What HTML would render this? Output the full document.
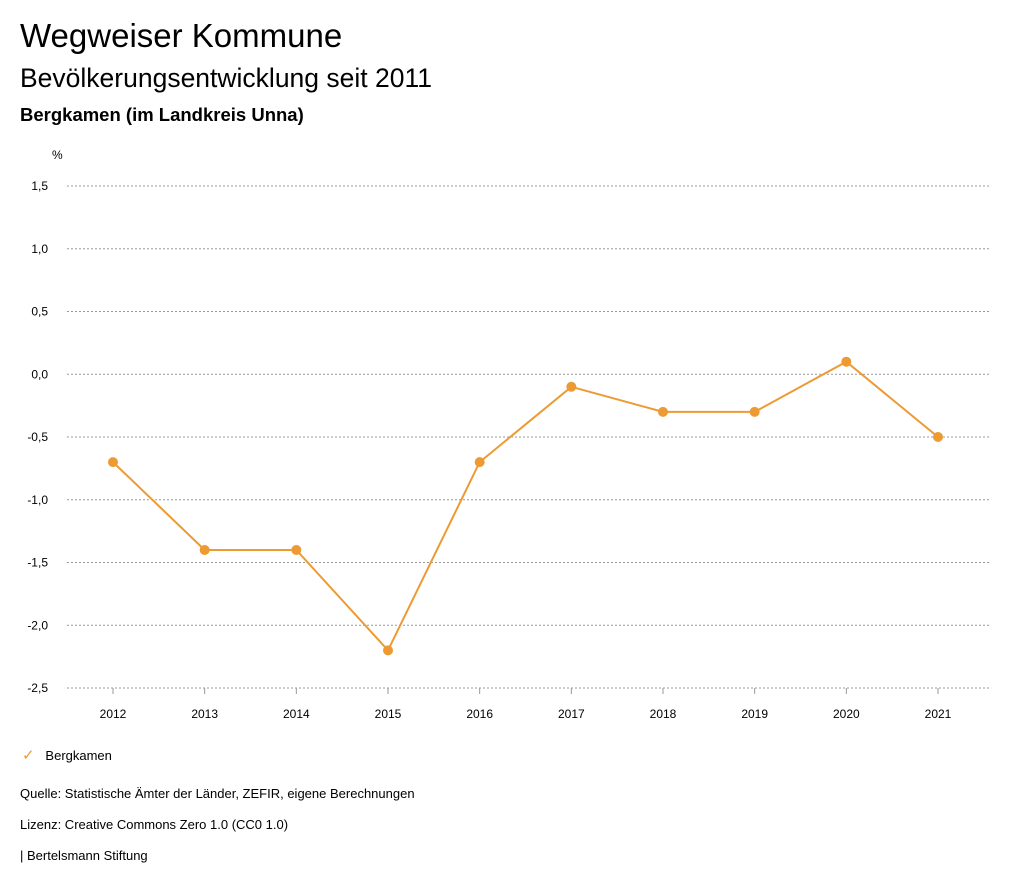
<!DOCTYPE html>
<html><head><meta charset="utf-8">
<style>
body{margin:0;background:#fff;width:1024px;height:888px;overflow:hidden;font-family:"Liberation Sans",sans-serif;color:#000}
.t{position:absolute;left:20px;white-space:nowrap}
</style></head><body>
<div class="t" style="top:17px;font-size:33px">Wegweiser Kommune</div>
<div class="t" style="top:63px;font-size:26.5px">Bevölkerungsentwicklung seit 2011</div>
<div class="t" style="top:104px;font-size:18.5px;font-weight:bold">Bergkamen (im Landkreis Unna)</div>
<svg id="chart" width="1024" height="888" style="position:absolute;left:0;top:0" font-family="Liberation Sans, sans-serif"></svg>
<div class="t" style="top:746px;font-size:13px;left:22px"><span style="color:#ee9a33;font-size:15px">✓</span>&nbsp;&nbsp;&nbsp;Bergkamen</div>
<div class="t" style="top:786px;font-size:13px">Quelle: Statistische Ämter der Länder, ZEFIR, eigene Berechnungen</div>
<div class="t" style="top:817px;font-size:13px">Lizenz: Creative Commons Zero 1.0 (CC0 1.0)</div>
<div class="t" style="top:848px;font-size:13px">| Bertelsmann Stiftung</div>
<script>
const years=[2012,2013,2014,2015,2016,2017,2018,2019,2020,2021];
const values=[-0.7,-1.4,-1.4,-2.2,-0.7,-0.1,-0.3,-0.3,0.1,-0.5];
const yTicks=[1.5,1.0,0.5,0.0,-0.5,-1.0,-1.5,-2.0,-2.5];
const yTickLabels=["1,5","1,0","0,5","0,0","-0,5","-1,0","-1,5","-2,0","-2,5"];
const NS="http://www.w3.org/2000/svg",svg=document.getElementById("chart");
const x=i=>113+i*(938-113)/(years.length-1);
const y=v=>186+(1.5-v)*(688-186)/4;
function mk(t,a){const e=document.createElementNS(NS,t);for(const k in a)e.setAttribute(k,a[k]);svg.appendChild(e);return e;}
let t=mk("text",{x:52,y:159,"font-size":12});t.textContent="%";


yTicks.forEach((v,i)=>{
 const l=mk("line",{x1:67,x2:990,y1:y(v),y2:y(v),stroke:"#999","stroke-dasharray":"2,2","stroke-width":1});
 
 
 const tx=mk("text",{x:48,y:y(v)+4,"font-size":12,"text-anchor":"end"});tx.textContent=yTickLabels[i];
 
 
});
years.forEach((yr,i)=>{
 const tk=mk("line",{x1:x(i),x2:x(i),y1:688,y2:694,stroke:"#999"});
 
 
 const tx=mk("text",{x:x(i),y:718,"font-size":12,"text-anchor":"middle"});tx.textContent=yr;
 
 
});
const p=mk("polyline",{points:values.map((v,i)=>x(i)+","+y(v)).join(" "),fill:"none",stroke:"#ee9a33","stroke-width":2});


values.forEach((v,i)=>{
 const c=mk("circle",{cx:x(i),cy:y(v),r:5,fill:"#ee9a33"});
 
 
});
</script>
</body></html>
